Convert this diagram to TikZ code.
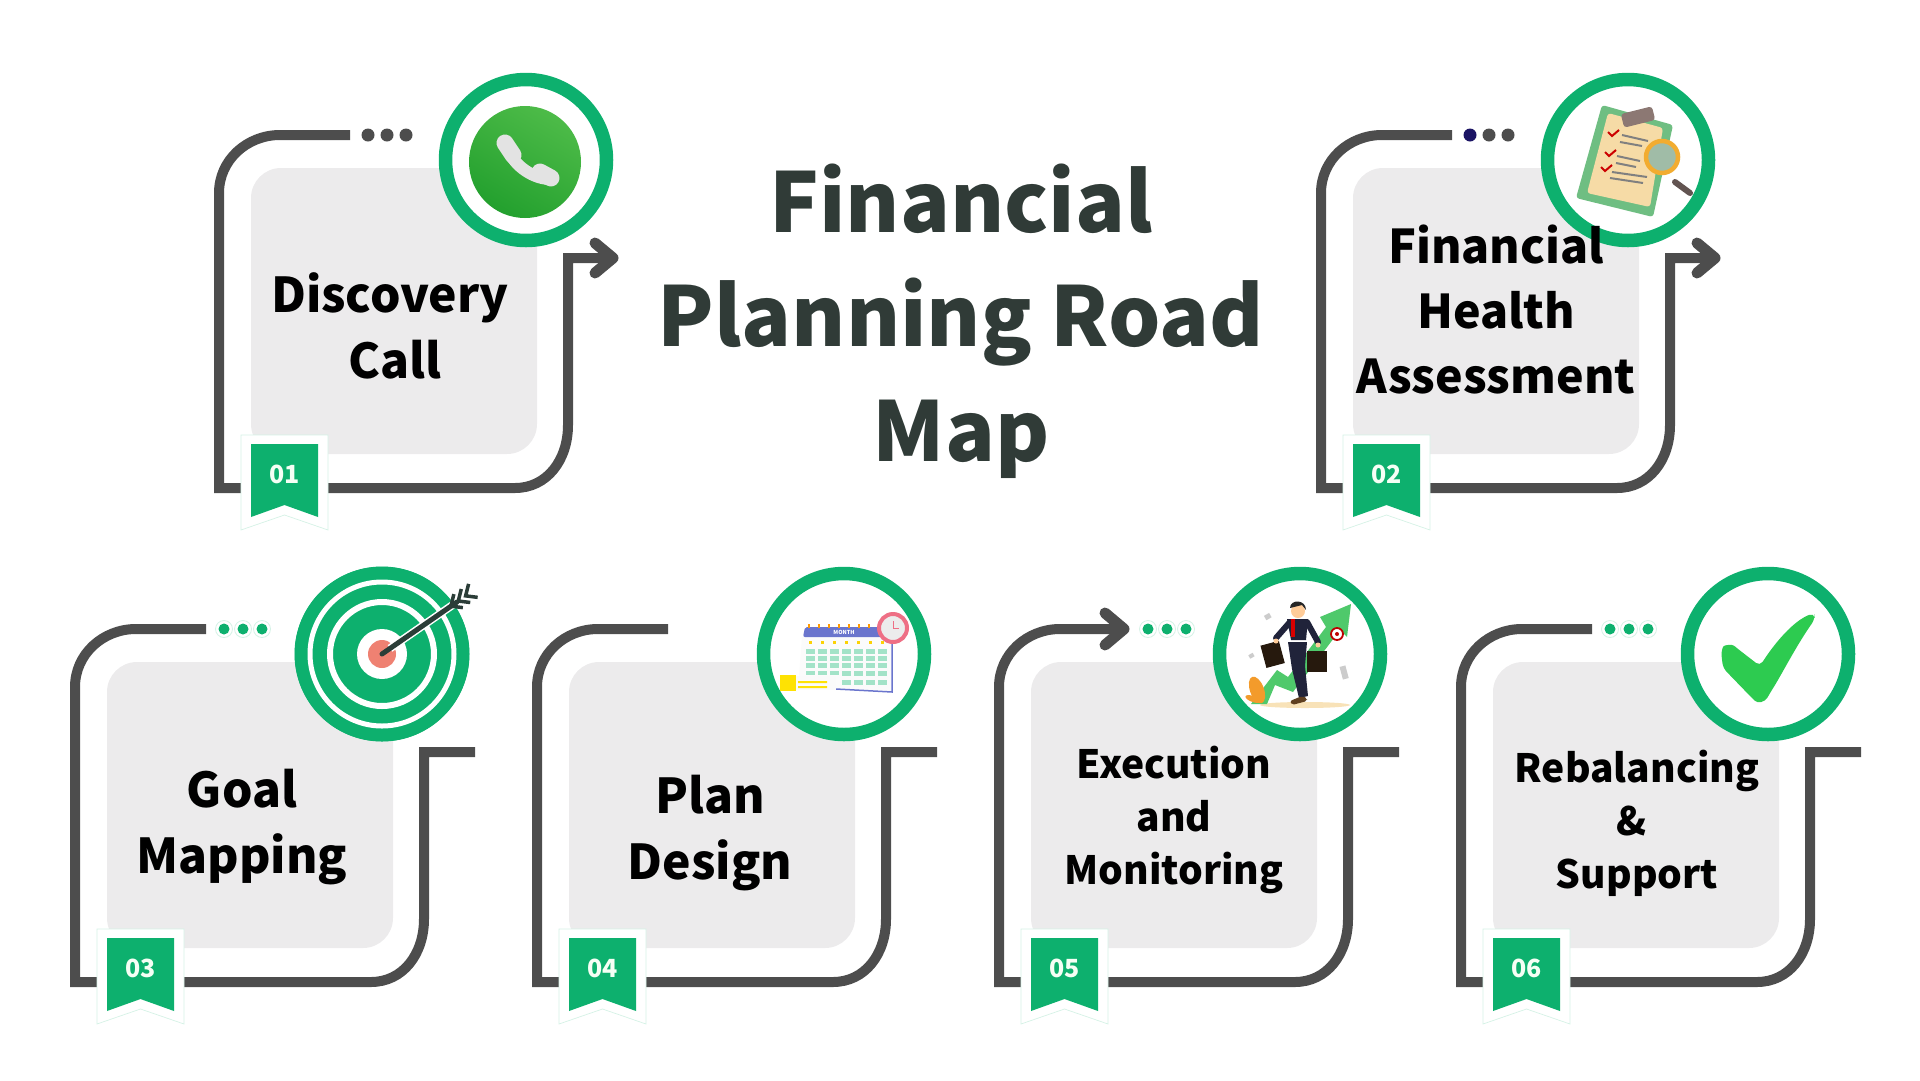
\documentclass[tikz,border=0pt]{standalone}
\usepackage{fontspec}
\setmainfont{Noto Sans CJK SC}
\definecolor{framegrey}{HTML}{4D4D4D}
\definecolor{cardgrey}{HTML}{ECEBEC}
\definecolor{roadgreen}{HTML}{0DB06E}
\definecolor{titledark}{HTML}{303B37}
\definecolor{navydot}{HTML}{1B1464}
\definecolor{palegreen}{HTML}{D5F2E6}
\definecolor{phonelight}{HTML}{4DBB48}
\definecolor{phonedark}{HTML}{23A02E}
\definecolor{boardgreen}{HTML}{6FBE82}
\definecolor{paperpeach}{HTML}{F6DBA6}
\definecolor{clipbrown}{HTML}{8C7873}
\definecolor{lensorange}{HTML}{F2AC30}
\definecolor{calblue}{HTML}{6A75CD}
\definecolor{calcell}{HTML}{A3E3C8}
\definecolor{clockpink}{HTML}{EE6F85}
\definecolor{chartgreen}{HTML}{4FC96B}
\definecolor{suitnavy}{HTML}{20233A}
\definecolor{tickgreen}{HTML}{2DCB50}
\definecolor{salmon}{HTML}{EF8172}
\definecolor{arrowdark}{HTML}{2B3D38}
\tikzset{
  frameline/.style={draw=framegrey, line width=10pt, miter limit=10},
  headline/.style={draw=framegrey, line width=11pt, line cap=round, line join=round},
  cardbox/.style={fill=cardgrey, rounded corners=30pt, minimum size=286pt, inner sep=0pt, outer sep=0pt, anchor=north west},
  ringnode/.style={circle, draw=roadgreen, fill=white, line width=13.5pt, minimum size=161pt, inner sep=0pt, outer sep=0pt},
  numberlabel/.style={text=green!4, font=\bfseries\fontsize{25}{30}\selectfont, inner sep=0pt},
  bigtitle/.style={text=titledark, align=center, font=\bfseries\fontsize{82.5}{114.5}\selectfont, inner sep=0pt},
  steplabel/.style={text=black, align=center, anchor=base, font=\bfseries\fontsize{48}{66}\selectfont, inner sep=0pt},
  midlabel/.style={steplabel, font=\bfseries\fontsize{46.5}{65}\selectfont},
  smalllabel/.style={steplabel, font=\bfseries\fontsize{39}{53}\selectfont},
  greydot/.style={circle, fill=framegrey, minimum size=13pt, inner sep=0pt},
  greendot/.style={circle, fill=white, draw=palegreen, line width=0.8pt, minimum size=17pt, inner sep=0pt,
    path picture={\fill[roadgreen] (path picture bounding box.center) circle (5.5pt);}}
}
\newcommand{\roadframe}[6]{%
  \begin{scope}[shift={(#2,#3)}]
    \draw[frameline] (#5,-33) -- (29,-33) .. controls (-4,-33) and (-32,-8) .. (-32,25) -- (-32,320) -- (264,320)
      .. controls (296,320) and (317,292) .. (317,257) -- (317,90) -- (#6,90);
    \node[cardbox] (card#1) at (0,0) {};
    \filldraw[fill=white, draw=palegreen, line width=0.7pt] (-10,267) -- (77,267) -- (77,362) -- (33.5,347) -- (-10,362) -- cycle;
    \fill[roadgreen] (0,276) -- (67,276) -- (67,349) -- (33.5,337) -- (0,349) -- cycle;
    \node[numberlabel] (num#1) at (33.5,306) {0#1};
    \node[ringnode] (ring#1) at (#4,-8) {};
  \end{scope}}
\begin{document}
\begin{tikzpicture}[x=1pt, y=-1pt]
\useasboundingbox (0,0) rectangle (1920,1080);
\foreach \n/\px/\py/\rx/\ex/\ey in {1/251/168/275/99/358, 2/1353/168/275/99/358, 3/107/662/275/99/368,
    4/569/662/275/99/368, 5/1031/662/269/90/368, 6/1493/662/275/99/368}
  \roadframe{\n}{\px}{\py}{\rx}{\ex}{\ey};

\draw[headline] (595,243) -- (613,258) -- (595,273);
\draw[headline] (1697,243) -- (1715,258) -- (1697,273);
\draw[headline] (1105,613) -- (1124,629) -- (1105,645);

\foreach \d in {368,387,406} \node[greydot] (dota\d) at (\d,135) {};
\node[greydot, fill=navydot] (dotb1) at (1470,135) {};
\node[greydot] (dotb2) at (1489,135) {};
\node[greydot] (dotb3) at (1508,135) {};
\foreach \d in {224,243,262,1148,1167,1186,1610,1629,1648} \node[greendot] (dotc\d) at (\d,629) {};

\node[bigtitle] (title) at (961,321) {Financial\\Planning Road\\Map};

\node[steplabel] (label1) at (390,378) {Discovery\\\hspace*{10pt}Call};
\node[midlabel] (label2) at (1496,393) {Financial\\Health\\Assessment};
\node[steplabel] (label3) at (242,873) {Goal\\Mapping};
\node[steplabel] (label4) at (710,879) {Plan\\Design};
\node[smalllabel] (label5) at (1174,884) {Execution\\and\\Monitoring};
\node[smalllabel] (label6) at (1637,888) {Rebalancing\\\hspace*{-10pt}\&\\Support};

% phone
\begin{scope}[shift={(ring1.center)}]
  \shade[top color=phonelight, bottom color=phonedark, shading angle=-30] (-1,2) circle (56pt);
  \draw[gray!22, line width=12pt, line cap=round] (-19,-13) .. controls (-14,3) and (4,18) .. (23,19);
  \draw[gray!22, line width=17pt, line cap=round] (-21,-17) -- (-13,-5);
  \draw[gray!22, line width=17pt, line cap=round] (14,12) -- (25,18);
\end{scope}

% clipboard
\begin{scope}[shift={(ring2.center)}]
  \fill[boardgreen, rounded corners=3pt] (-26,-55) -- (45,-35) -- (25,57) -- (-52,38) -- cycle;
  \fill[paperpeach, rounded corners=3pt] (-20,-47) -- (35,-32) -- (22,47) -- (-41,33) -- cycle;
  \fill[clipbrown, rounded corners=3pt, rotate around={14:(10,-43)}] (-6,-50) rectangle (26,-36);
  \foreach \cx/\cy in {-20/-28,-23/-8,-27/7}
    \draw[red!80!black, line width=2pt] (\cx,\cy) -- ++(4,4) -- ++(7,-6);
  \draw[gray, line width=2pt] (-6,-25) -- (20,-19) (-8,-18) -- (14,-14) (-11,-4) -- (12,1) (-12,3) -- (8,7) (-16,12) -- (19,17) (-18,18) -- (15,23);
  \draw[clipbrown!70!black, line width=6pt, line cap=round] (47,22) -- (62,33);
  \filldraw[fill=boardgreen!50!gray!70!white, draw=lensorange, line width=4.5pt] (34,-3) circle (16pt);
\end{scope}

% target
\fill[roadgreen] (ring3.center) circle (87.5pt);
\begin{scope}[shift={(ring3.center)}]
  \draw[white, line width=5pt] (0,0) circle (72pt);
  \draw[white, line width=6pt] (0,0) circle (52pt);
  \fill[white] (0,0) circle (25pt);
  \fill[salmon] (0,0) circle (14pt);
  \draw[white, line width=8pt] (8,-5.6) -- (72,-50);
  \draw[arrowdark, line width=5pt, line cap=round] (0,0) -- (75,-52);
  \foreach \t in {84,93,102}
    \draw[arrowdark, line width=3.5pt] ({\t*0.82+3},{-\t*0.57-12}) -- ({\t*0.82},{-\t*0.57}) -- ({\t*0.82+12},{-\t*0.57+1.5});
\end{scope}

% calendar
\begin{scope}[shift={(ring4.center)}]
  \fill[white!97!gray] (-42,-17) -- (47,-17) -- (47,37) -- (-8,35) -- (-46,36) -- cycle;
  \draw[calblue, line width=1.5pt] (-8,35) -- (48,38) -- (48,-17);
  \fill[calblue, rounded corners=2pt] (-41,-17) -- (-39,-27) -- (48,-27) -- (48,-17) -- cycle;
  \node[text=white, font=\bfseries\fontsize{5.5}{6}\selectfont, inner sep=0pt] (monthname) at (0,-22) {MONTH};
  \foreach \tx in {-36,-26,-16,-6,4,14,24,34}
    \fill[orange!80!yellow] (\tx,-30) rectangle ++(1.5,3.5);
  \foreach \tx in {-34,-22,-10,2,14,26,38} {
    \fill[yellow!70!orange] (\tx-1,-13) rectangle ++(3,2.5);
    \foreach \ty in {-3,4,11}
      \fill[calcell] (\tx-4,\ty-2.5) rectangle ++(8.5,5);
  }
  \foreach \tx in {-34,-22,-10} \fill[calcell] (\tx-4,17) rectangle ++(8.5,4);
  \foreach \tx in {2,14,26,38} {
    \fill[calcell] (\tx-4,17) rectangle ++(8.5,5);
    \fill[calcell] (\tx-4,26) rectangle ++(8.5,5);
  }
  \fill[white!96!gray] (-64,22) rectangle (-8,36);
  \fill[yellow!85!orange] (-64,21) rectangle (-48,37);
  \fill[yellow!85!orange] (-46,27) rectangle (-17,29) (-46,32) rectangle (-17,34);
  \filldraw[fill=gray!15, draw=clockpink, line width=4pt] (49,-26) circle (14pt);
  \draw[clockpink, line width=1pt] (49,-33) -- (49,-26) -- (55,-26);
\end{scope}

% businessman
\begin{scope}[shift={(ring5.center)}]
  \fill[paperpeach!80!white] (5,51) ellipse (45pt and 3pt);
  \fill[chartgreen] (-49,50) -- (-23,16) -- (-12,23) -- (26,-27) -- (20,-37) -- (51,-50) -- (47,-17) -- (40,-24) -- (-7,38) -- (-25,31) -- (-33,50) -- cycle;
  \fill[lensorange!90!red, rotate around={20:(-43,36)}] (-43,36) ellipse (7pt and 14pt);
  \fill[lensorange!90!red, rotate around={-20:(-47,45)}] (-47,45) ellipse (8pt and 3pt);
  \filldraw[fill=white, draw=red!75!black, line width=1.8pt] (37,-20) circle (6pt);
  \fill[red!75!black] (37,-20) circle (2pt);
  \fill[gray!40, rotate around={15:(44,18)}] (41,12) rectangle (47,25);
  \fill[gray!40, rotate around={30:(-32,-37)}] (-35,-40) rectangle (-29,-35);
  \fill[gray!40, rotate around={30:(-49,2)}] (-51,0) rectangle (-46,4);
  \fill[black!80!brown, rotate around={15:(-28,0)}] (-37,-11) rectangle (-18,12);
  \fill[black!80!brown] (7,-3) rectangle (27,18);
  \draw[suitnavy, line width=6pt, line cap=round] (-10,-32) -- (-24,-16);
  \draw[suitnavy, line width=6pt, line cap=round] (7,-32) -- (18,-12);
  \fill[suitnavy] (-13,-35) -- (8,-35) -- (6,-14) -- (-9,-14) -- cycle;
  \fill[suitnavy] (-12,-12) -- (7,-12) -- (5,12) -- (8,42) -- (-1,44) -- (-8,15) -- cycle;
  \draw[red!85!black, line width=3.5pt] (-7,-35) -- (-7,-17);
  \fill[orange!40!white] (-24,-13) circle (2.5pt) (18,-9) circle (2.5pt);
  \fill[orange!40!white] (-2,-43) circle (7pt);
  \fill[black!85] (-10,-46) .. controls (-10,-55) and (6,-55) .. (6,-44) -- (2,-49) -- cycle;
  \fill[brown!50!black, rounded corners=2pt] (-10,47) -- (2,42) -- (7,44) -- (7,47) -- (-8,51) -- cycle;
\end{scope}

% tick
\begin{scope}[shift={(ring6.center)}]
  \fill[tickgreen, rounded corners=5pt] (-47,-3) .. controls (-44,-9) and (-36,-10) .. (-30,-5)
    -- (-8,12) .. controls (6,-10) and (25,-33) .. (46,-41) -- (47,-35) .. controls (28,-8) and (14,20) .. (2,39)
    .. controls (-3,48) and (-10,50) .. (-17,43) -- (-45,14) -- cycle;
\end{scope}
\end{tikzpicture}
\end{document}
